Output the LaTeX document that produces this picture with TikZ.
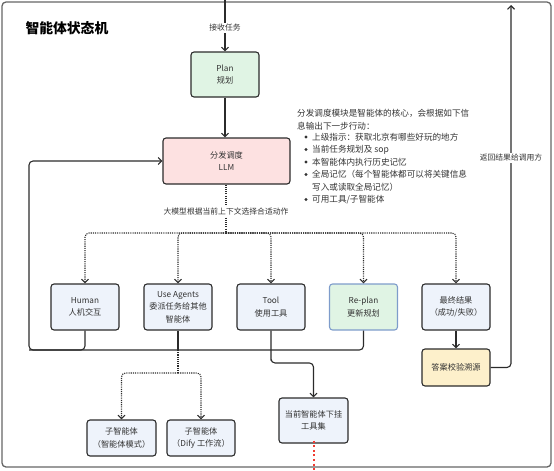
\documentclass[tikz,border=0pt]{standalone}
\usepackage{fontspec}
\setmainfont{Noto Sans CJK SC}
\usetikzlibrary{arrows.meta}
\definecolor{txt}{HTML}{333333}
\definecolor{edge}{HTML}{2B2B2B}
\definecolor{bluef}{HTML}{EEF3FB}
\definecolor{greenf}{HTML}{E0F4E4}
\definecolor{pinkf}{HTML}{FDE1E1}
\definecolor{yellowf}{HTML}{FDF0CB}
\definecolor{replanb}{HTML}{7E9CCB}
\definecolor{reddot}{HTML}{F03C32}
\tikzset{
  box/.style={draw=edge, line width=1.1pt, rounded corners=3pt, fill=bluef,
    minimum width=68pt, minimum height=46pt, align=center, text=txt,
    font=\fontsize{8.2}{12.5}\selectfont, inner sep=1pt},
  conn/.style={draw=edge, line width=1.1pt, rounded corners=4pt},
  arr/.style={-{Straight Barb[length=3.5pt,width=7pt]}},
  dots/.style={dash pattern=on 1.1pt off 1.1pt},
  lbl/.style={fill=white, text=txt, font=\fontsize{7.8}{9}\selectfont, inner sep=1.5pt},
  desc/.style={anchor=base west, text=txt, font=\fontsize{8.6}{10}\selectfont, inner sep=0pt},
  bul/.style={circle, fill=txt, inner sep=0pt, minimum size=3.2pt},
}
\begin{document}
\begin{tikzpicture}[x=1pt,y=-1pt]
\useasboundingbox (0,0) rectangle (554,471);
\draw[draw=gray!80!black, line width=1.3pt, rounded corners=4pt] (2,2) rectangle (551,467);
\node[anchor=west, text=black, font=\fontsize{13.8}{15}\selectfont\bfseries] (title) at (22,28) {智能体状态机};

\node[box, fill=greenf, minimum height=45pt] (plan) at (225,74.5) {Plan\\规划};
\node[box, fill=pinkf, minimum width=127pt] (llm) at (226.5,161) {分发调度\\LLM};
\node[box] (human) at (85,307) {Human\\人机交互};
\node[box] (agents) at (178,307) {Use Agents\\委派任务给其他\\智能体};
\node[box] (tool) at (271,307) {Tool\\使用工具};
\node[box, fill=greenf, draw=replanb] (replan) at (363.5,307) {Re-plan\\更新规划};
\node[box] (final) at (456,307) {最终结果\\（成功/失败）};
\node[box, fill=yellowf, minimum height=37pt] (answer) at (456,367.5) {答案校验溯源};
\node[box, minimum width=69pt, minimum height=36pt] (sub1) at (121.5,438) {子智能体\\（智能体模式）};
\node[box, minimum height=36pt] (sub2) at (201,438) {子智能体\\（Dify 工作流）};
\node[box, minimum width=69pt, minimum height=45pt] (tset) at (313.5,420.5) {当前智能体下挂\\工具集};

% input
\coordinate (in) at (225,0);
\draw[conn, arr] (in) -- (plan.north);
\node[lbl] (inlbl) at (225,28) {接收任务};
\draw[conn, arr] (plan.south) -- (plan.south |- llm.north);

% dispatch
\coordinate (bus) at (226,233);
\draw[conn, dots] (llm.south -| bus) -- (bus);
\node[lbl] (dlbl) at (226,212) {大模型根据当前上下文选择合适动作};
\foreach \n in {human,agents,tool,replan,final}
  \draw[conn, dots, arr] (bus) -| (\n.north);

% loop back
\coordinate (bl) at (29,350);
\draw[conn, arr] (human.south) |- (bl) |- (llm.west);
\draw[conn] (agents.south) -- (agents.south |- bl);
\draw[conn] (replan.south) |- (bl);
\coordinate (tk) at (271,363);
\draw[conn, arr] (tool.south) |- (tk) -| (tset.north);

% sub agents
\coordinate (sb) at (178,373);
\draw[conn, dots] (agents.south |- bl) -- (sb);
\draw[conn, dots, arr] (sb) -| (sub1.north);
\draw[conn, dots, arr] (sb) -| (sub2.north);

% red dots
\coordinate (rd) at (313.5,471);
\draw[draw=reddot, line width=2pt, dash pattern=on 2pt off 2.6pt] ([yshift=3pt]tset.south) -- (rd);

% final / return
\draw[conn, arr] (final.south) -- (answer.north);
\coordinate (rt) at (511,5);
\draw[conn, arr] (answer.east) -| (rt);
\node[lbl] (rlbl) at (511,158) {返回结果给调用方};

% description
\node[desc] (d1) at (297,116) {分发调度模块是智能体的核心，会根据如下信};
\node[desc] (d2) at (297,129.5) {息输出下一步行动：};
\foreach \y/\t [count=\i] in {140/{上级指示：获取北京有哪些好玩的地方}, 152.5/{当前任务规划及 sop}, 165/{本智能体内执行历史记忆}, 177.5/{全局记忆（每个智能体都可以将关键信息}, 202.5/{可用工具/子智能体}}{
  \node[bul] (b\i) at (306,\y-3) {};
  \node[desc] (t\i) at (312,\y) {\t};
}
\node[desc] (t6) at (312,190) {写入或读取全局记忆）};
\end{tikzpicture}
\end{document}
